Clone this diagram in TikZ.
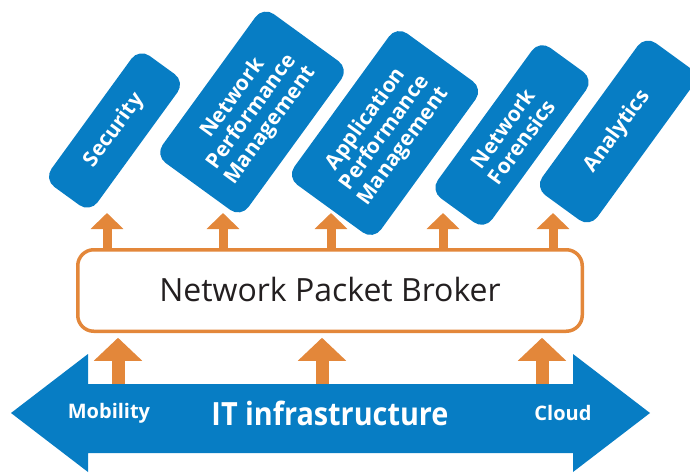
\documentclass[tikz,border=0pt]{standalone}
\usepackage{fontspec}
\setmainfont{Open Sans}
\newfontfamily\bandfont{Open Sans}[FakeStretch=0.9]
\usetikzlibrary{arrows.meta}

\definecolor{brandblue}{HTML}{077DC4}
\definecolor{brokerorange}{HTML}{E3873A}
\definecolor{inktext}{HTML}{231F20}

\tikzset{
  toolbox/.style n args={2}{
    fill=brandblue, rounded corners=13pt, rotate=54,
    minimum width=#1pt, minimum height=#2pt, inner sep=0pt,
    align=center, text=white,
    font=\bfseries\fontsize{21}{23}\selectfont},
  feedarrow/.style={draw=brokerorange, line width=9pt,
    -{Triangle[width=32pt,length=16pt]}},
  sourcearrow/.style={draw=brokerorange, line width=13pt,
    -{Triangle[width=47pt,length=23pt]}},
  brokerbox/.style={draw=brokerorange, line width=3.5pt, fill=white,
    rounded corners=16pt, minimum width=504.5pt, minimum height=81.5pt,
    inner sep=0pt, text=inktext, font=\fontsize{32}{38}\selectfont},
  bandlabel/.style={text=white, inner sep=0pt,
    font=\bfseries\fontsize{20}{24}\selectfont},
}

\begin{document}
\begin{tikzpicture}[x=1pt,y=-1pt]
\useasboundingbox (0,0) rectangle (690,474);

% IT infrastructure band: double-headed arrow
\fill[brandblue] (11,413) -- (88,354) -- (88,384) -- (573,384) -- (573,354)
  -- (650,413) -- (573,472) -- (573,453) -- (88,453) -- (88,472) -- cycle;
\node[bandlabel, font=\bandfont\bfseries\fontsize{32}{36}\selectfont] (infra) at (330,413) {IT infrastructure};
\node[bandlabel] (mob) at (109,413) {Mobility};
\node[bandlabel] (cloud) at (563,413) {Cloud};

% monitoring tools
\node[toolbox={162}{57}] (sec) at (114.5,130.5) {Security};
\node[toolbox={184}{106}] (npm) at (252,112) {Network\\Performance\\Management};
\node[toolbox={187}{107}] (apm) at (385,133) {Application\\Performance\\Management};
\node[toolbox={186}{67}] (nf) at (512,135) {Network\\Forensics};
\node[toolbox={188}{68}] (ana) at (617.5,131.5) {Analytics};

% packet broker
\node[brokerbox] (npb) at (330,290.5) {\raisebox{1.5pt}{Network Packet Broker}};

% arrow tips below the tools
\coordinate (f1) at (107,213);
\coordinate (f2) at (223,213);
\coordinate (f3) at (331,213);
\coordinate (f4) at (443,213);
\coordinate (f5) at (553,213);
\foreach \c in {f1,f2,f3,f4,f5}
  \draw[feedarrow] (npb.north -| \c) -- (\c);

% traffic from the infrastructure into the broker
\coordinate (s1) at (118,384);
\coordinate (s2) at (322,384);
\coordinate (s3) at (542,384);
\foreach \c in {s1,s2,s3}
  \draw[sourcearrow] (\c) -- ([yshift=-4.75pt]npb.south -| \c);
\end{tikzpicture}
\end{document}
